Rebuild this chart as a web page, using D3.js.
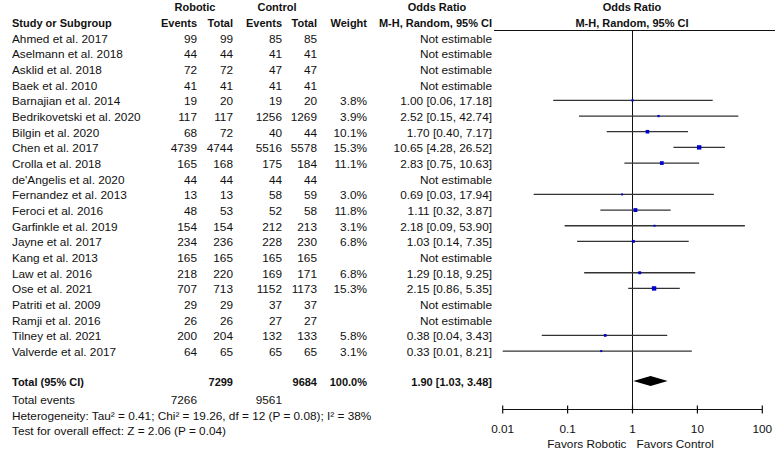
<!DOCTYPE html>
<html lang="en">
<head>
  <meta charset="utf-8">
  <script src="https://d3js.org/d3.v7.min.js"></script>
  <style>
    body {
      margin: 0;
      background: #fff;
    }
    svg text {
      font-family: Arial, "Liberation Sans", sans-serif;
      font-size: 11.8px;
      fill: #111;
    }
    svg text.bold {
      font-weight: bold;
      font-size: 11px;
    }
  </style>
  <title>Forest plot</title>
</head>
<body>
<div id="vis"></div>
<script>
// study data
const studies = ['Ahmed et al. 2017', 'Aselmann et al. 2018', 'Asklid et al. 2018', 'Baek et al. 2010',
  'Barnajian et al. 2014', 'Bedrikovetski et al. 2020', 'Bilgin et al. 2020', 'Chen et al. 2017',
  'Crolla et al. 2018', "de'Angelis et al. 2020", 'Fernandez et al. 2013', 'Feroci et al. 2016',
  'Garfinkle et al. 2019', 'Jayne et al. 2017', 'Kang et al. 2013', 'Law et al. 2016', 'Ose et al. 2021',
  'Patriti et al. 2009', 'Ramji et al. 2016', 'Tilney et al. 2021', 'Valverde et al. 2017'];
const robEvents = [99, 44, 72, 41, 19, 117, 68, 4739, 165, 44, 13, 48, 154, 234, 165, 218, 707, 29, 26, 200, 64];
const robTotal  = [99, 44, 72, 41, 20, 117, 72, 4744, 168, 44, 13, 53, 154, 236, 165, 220, 713, 29, 26, 204, 65];
const ctlEvents = [85, 41, 47, 41, 19, 1256, 40, 5516, 175, 44, 58, 52, 212, 228, 165, 169, 1152, 37, 27, 132, 65];
const ctlTotal  = [85, 41, 47, 41, 20, 1269, 44, 5578, 184, 44, 59, 58, 213, 230, 165, 171, 1173, 37, 27, 133, 65];
const weights   = [null, null, null, null, 3.8, 3.9, 10.1, 15.3, 11.1, null, 3.0, 11.8, 3.1, 6.8, null, 6.8, 15.3, null, null, 5.8, 3.1];
const orEst  = [null, null, null, null, 1.00, 2.52, 1.70, 10.65, 2.83, null, 0.69, 1.11, 2.18, 1.03, null, 1.29, 2.15, null, null, 0.38, 0.33];
const orLow  = [null, null, null, null, 0.06, 0.15, 0.40, 4.28, 0.75, null, 0.03, 0.32, 0.09, 0.14, null, 0.18, 0.86, null, null, 0.04, 0.01];
const orHigh = [null, null, null, null, 17.18, 42.74, 7.17, 26.52, 10.63, null, 17.94, 3.87, 53.90, 7.35, null, 9.25, 5.35, null, null, 3.43, 8.21];

// pooled result
const totalN = [7299, 9684];
const totalEvents = [7266, 9561];
const pooled = [1.90, 1.03, 3.48];
const tickValues = [0.01, 0.1, 1, 10, 100];
const footnotes = ['Heterogeneity: Tau\u00b2 = 0.41; Chi\u00b2 = 19.26, df = 12 (P = 0.08); I\u00b2 = 38%',
  'Test for overall effect: Z = 2.06 (P = 0.04)'];

const width = 775;
const height = 456;

// column right edges of the table
const cols = { events1: 197, total1: 233, events2: 282, total2: 317, weight: 367, or: 492 };

const svg = d3.select('#vis')
  .append('svg')
  .attr('width', width)
  .attr('height', height);

// log scale for the plot on the right
const x = d3.scaleLog()
  .domain([0.01, 100])
  .range([502.7, 762.3]);

// row positions
const y = d3.scaleLinear()
  .domain([0, 1])
  .range([37.7, 53.37]);

const size = d3.scaleSqrt()
  .domain([0, 15.3])
  .range([0, 4.4]);

const fmt = d3.format('.2f');

function addText(tx, ty, str, anchor, bold) {
  svg.append('text')
    .attr('x', tx)
    .attr('y', ty)
    .attr('text-anchor', anchor)
    .classed('bold', !!bold)
    .text(str);
}

// headers
addText(195, 11, 'Robotic', 'middle', true);
addText(277, 11, 'Control', 'middle', true);
addText(437, 11, 'Odds Ratio', 'middle', true);
addText(632, 11, 'Odds Ratio', 'middle', true);
addText(12, 27, 'Study or Subgroup', 'start', true);
addText(cols.events1, 27, 'Events', 'end', true);
addText(cols.total1, 27, 'Total', 'end', true);
addText(cols.events2, 27, 'Events', 'end', true);
addText(cols.total2, 27, 'Total', 'end', true);
addText(cols.weight, 27, 'Weight', 'end', true);
addText(cols.or, 27, 'M-H, Random, 95% CI', 'end', true);
addText(632, 27, 'M-H, Random, 95% CI', 'middle', true);

svg.append('line')
  .attr('x1', 494).attr('x2', width)
  .attr('y1', 30.5).attr('y2', 30.5)
  .attr('stroke', '#111')
  .attr('stroke-width', 1.2);

// line of no effect
const axisY = 409.5;
svg.append('line')
  .attr('x1', x(1)).attr('x2', x(1))
  .attr('y1', 30.5).attr('y2', axisY)
  .attr('stroke', '#111')
  .attr('stroke-width', 1);

// table rows
const rows = svg.selectAll('.row')
  .data(studies.map((s, i) => ({ name: s, i })))
  .enter()
  .append('g')
  .attr('class', 'row')
  .attr('transform', d => `translate(0,${y(d.i) + 5})`);

rows.append('text').attr('x', 12).text(d => d.name);
rows.append('text').attr('x', cols.events1).attr('text-anchor', 'end').text(d => robEvents[d.i]);
rows.append('text').attr('x', cols.total1).attr('text-anchor', 'end').text(d => robTotal[d.i]);
rows.append('text').attr('x', cols.events2).attr('text-anchor', 'end').text(d => ctlEvents[d.i]);
rows.append('text').attr('x', cols.total2).attr('text-anchor', 'end').text(d => ctlTotal[d.i]);
rows.append('text').attr('x', cols.weight).attr('text-anchor', 'end')
  .text(d => weights[d.i] == null ? '' : weights[d.i].toFixed(1) + '%');
rows.append('text').attr('x', cols.or).attr('text-anchor', 'end')
  .text(d => orEst[d.i] == null ? 'Not estimable'
    : `${fmt(orEst[d.i])} [${fmt(orLow[d.i])}, ${fmt(orHigh[d.i])}]`);

// confidence intervals and weighted squares
const est = studies.map((s, i) => i).filter(i => orEst[i] != null);

svg.selectAll('.ci')
  .data(est)
  .enter()
  .append('line')
  .attr('class', 'ci')
  .attr('x1', i => x(orLow[i]))
  .attr('x2', i => x(orHigh[i]))
  .attr('y1', i => y(i))
  .attr('y2', i => y(i))
  .attr('stroke', '#333')
  .attr('stroke-width', 1.3);

svg.selectAll('.sq')
  .data(est)
  .enter()
  .append('rect')
  .attr('class', 'sq')
  .attr('x', i => x(orEst[i]) - size(weights[i]) / 2)
  .attr('y', i => y(i) - size(weights[i]) / 2)
  .attr('width', i => size(weights[i]))
  .attr('height', i => size(weights[i]))
  .attr('fill', '#0000d0');

// total row
const totalY = 381;
addText(12, totalY + 5, 'Total (95% CI)', 'start', true);
addText(cols.total1, totalY + 5, totalN[0], 'end', true);
addText(cols.total2, totalY + 5, totalN[1], 'end', true);
addText(cols.weight, totalY + 5, '100.0%', 'end', true);
addText(cols.or, totalY + 5, `${fmt(pooled[0])} [${fmt(pooled[1])}, ${fmt(pooled[2])}]`, 'end', true);

svg.append('path')
  .attr('d', `M${x(pooled[1])},${totalY} L${x(pooled[0])},${totalY - 5} L${x(pooled[2])},${totalY} L${x(pooled[0])},${totalY + 5} Z`)
  .attr('fill', '#000');

addText(12, 403.5, 'Total events', 'start');
addText(cols.events1, 403.5, totalEvents[0], 'end');
addText(cols.events2, 403.5, totalEvents[1], 'end');
addText(12, 419.5, footnotes[0], 'start');
addText(12, 435, footnotes[1], 'start');

// x axis
const axis = svg.append('g')
  .attr('transform', `translate(0,${axisY})`);

axis.append('line')
  .attr('x1', x(0.01)).attr('x2', x(100))
  .attr('stroke', '#111')
  .attr('stroke-width', 1.2);

axis.selectAll('.tick')
  .data(tickValues)
  .enter()
  .append('line')
  .attr('x1', d => x(d)).attr('x2', d => x(d))
  .attr('y1', -4).attr('y2', 4)
  .attr('stroke', '#111')
  .attr('stroke-width', 1.2);

axis.selectAll('.lbl')
  .data(tickValues)
  .enter()
  .append('text')
  .attr('x', d => x(d))
  .attr('y', 23)
  .attr('text-anchor', 'middle')
  .text(d => d);

addText(x(1) - 6, 448, 'Favors Robotic', 'end');
addText(x(1) + 4, 448, 'Favors Control', 'start');
</script>
</body>
</html>
